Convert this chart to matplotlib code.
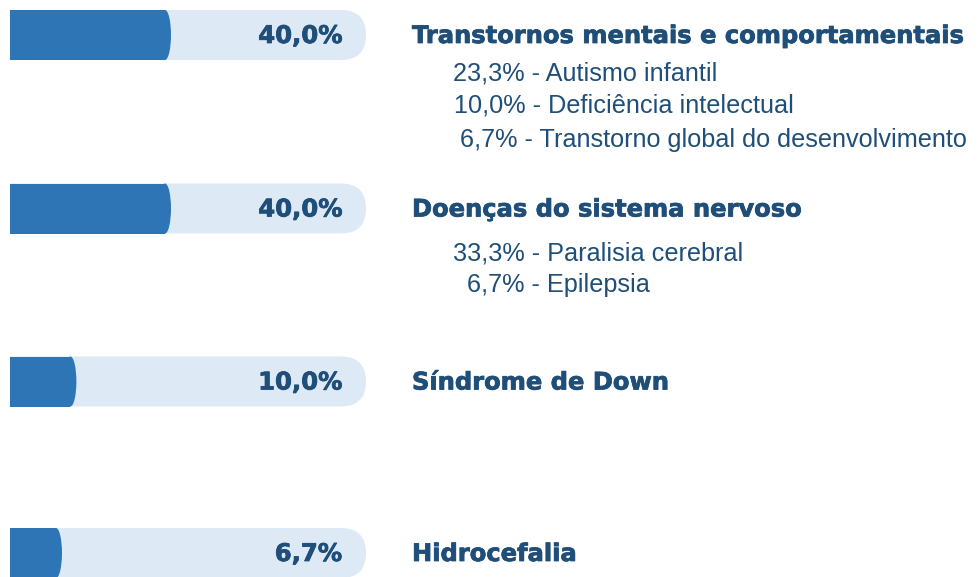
import matplotlib
matplotlib.use('Agg')
import matplotlib.pyplot as plt
import matplotlib.patheffects as pe
from matplotlib.patches import FancyBboxPatch, Rectangle, Ellipse

categories = ["Transtornos mentais e comportamentais", "Doenças do sistema nervoso",
              "Síndrome de Down", "Hidrocefalia"]
values = [40.0, 40.0, 10.0, 6.7]
value_labels = ["40,0%", "40,0%", "10,0%", "6,7%"]
sub_labels = [["23,3% - Autismo infantil", "10,0% - Deficiência intelectual",
               "6,7% - Transtorno global do desenvolvimento"],
              ["33,3% - Paralisia cerebral", "6,7% - Epilepsia"], [], []]

W, H = 979, 577
DARK = '#2E75B6'
LIGHT = '#DDEAF6'
NAVY = '#1F4E79'

fig = plt.figure(figsize=(W / 100, H / 100), dpi=100)
bg = fig.add_axes([0, 0, 1, 1])
bg.set_xlim(0, W)
bg.set_ylim(H, 0)
bg.axis('off')

row_y = [35, 208.5, 381.5, 553]
bar_h = 50
x0, x1 = 10, 366
bulge = 6

clip = Rectangle((x0, 0), W, H, transform=bg.transData, visible=False)
bg.add_patch(clip)
for cy in row_y:
    p = FancyBboxPatch((x0 - 40, cy - bar_h / 2), x1 - x0 + 40, bar_h,
                       boxstyle=f"round,pad=0,rounding_size={bar_h/2}",
                       fc=LIGHT, ec='none')
    bg.add_patch(p)
    p.set_clip_path(clip)

# data axes with a compressive power scale (as in the infographic)
P = 0.68
ax = fig.add_axes([x0 / W, 0, (x1 - x0) / W, 1])
ax.set_xscale('function', functions=(lambda v: abs(v) ** P, lambda u: abs(u) ** (1 / P)))
xmax = (40 ** P * (x1 - x0) / 155) ** (1 / P)
ax.set_xlim(0, xmax)
ax.set_ylim(H, 0)
ax.patch.set_visible(False)
ax.axis('off')
bars = ax.barh(row_y, values, height=bar_h, color=DARK, edgecolor='none')

# slightly rounded right end of each bar
fig.canvas.draw()
for cy, v in zip(row_y, values):
    xe_disp = ax.transData.transform((v, cy))
    xe = bg.transData.inverted().transform(xe_disp)[0]
    bg_e = Ellipse((xe, cy), 2 * bulge, bar_h, fc=DARK, ec='none', zorder=3)
    bg.add_patch(bg_e)

stroke = [pe.withStroke(linewidth=0.55, foreground=NAVY)]
for cy, lab in zip(row_y, value_labels):
    bg.text(342, cy + 1, lab, ha='right', va='center', fontsize=17.5,
            fontweight='bold', color=NAVY, family='DejaVu Sans',
            path_effects=stroke, zorder=5)

for cy, cat in zip(row_y, categories):
    bg.text(412, cy + 1, cat, ha='left', va='center', fontsize=17.4,
            fontweight='bold', color=NAVY, family='DejaVu Sans',
            path_effects=stroke, zorder=5)

sub_x = [[453, 454, 460], [453, 467]]
sub_y = [[73, 106, 140], [253, 285]]
for g, labs in enumerate(sub_labels[:2]):
    for i, s in enumerate(labs):
        bg.text(sub_x[g][i], sub_y[g][i], s, ha='left', va='center',
                fontsize=18.2, color=NAVY, family='Liberation Sans', zorder=5)

fig.savefig('out.png', dpi=100)
